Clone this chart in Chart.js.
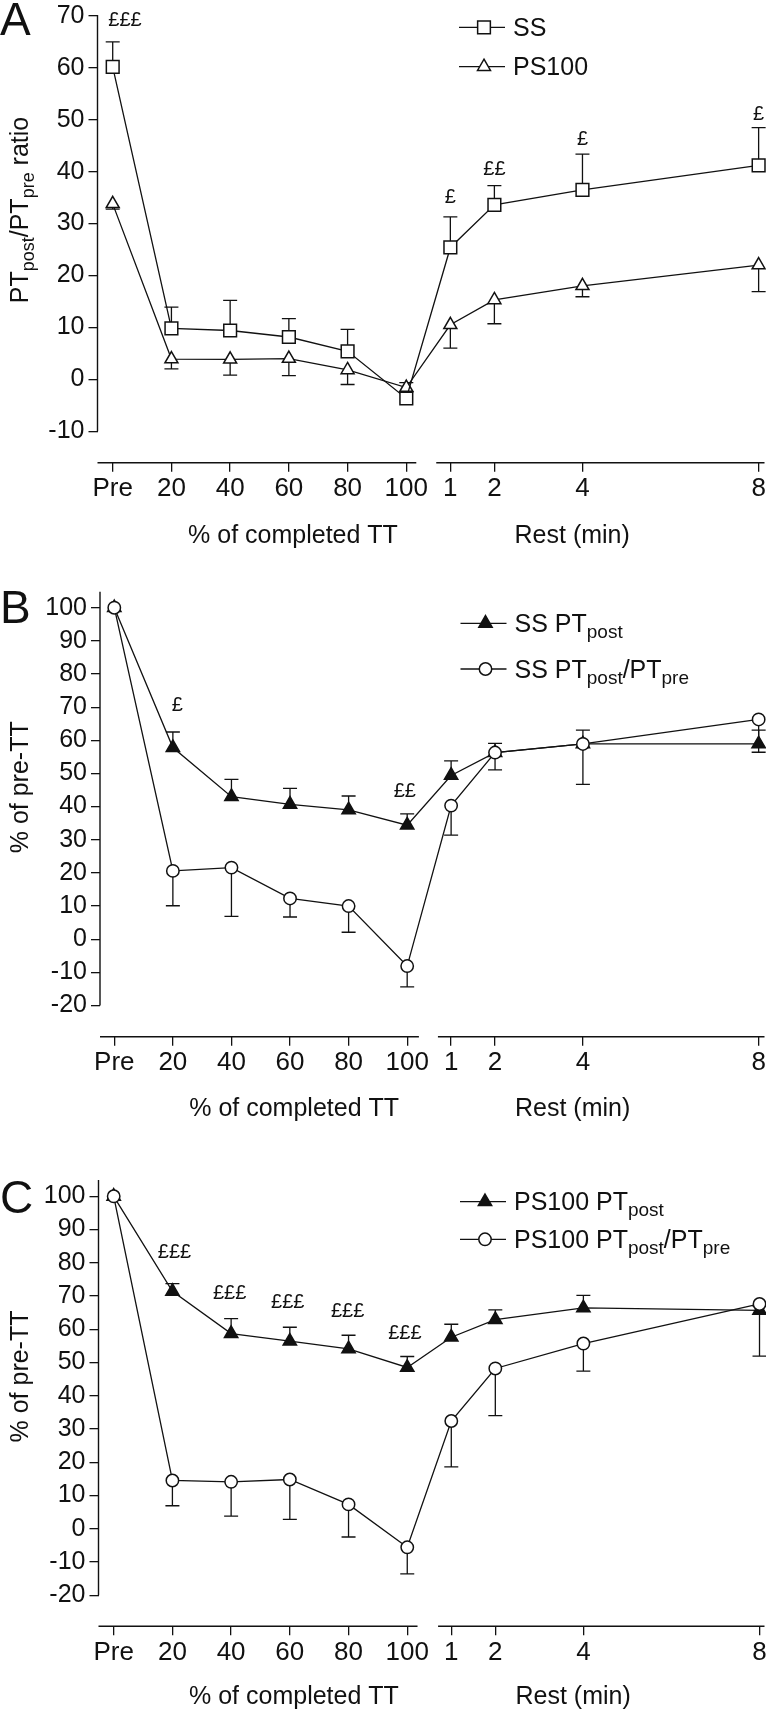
<!DOCTYPE html>
<html><head><meta charset="utf-8">
<script src="https://cdn.jsdelivr.net/npm/chart.js@4.4.1/dist/chart.umd.min.js"></script>
<style>
html,body{margin:0;padding:0;background:#fff;}
body{width:766px;height:1712px;position:relative;overflow:hidden;}
canvas{position:absolute;left:0;}
</style></head><body>
<canvas id="cA" width="766" height="565" style="top:0px;width:766px;height:565px"></canvas>
<canvas id="cB" width="766" height="570" style="top:565px;width:766px;height:570px"></canvas>
<canvas id="cC" width="766" height="577" style="top:1135px;width:766px;height:577px"></canvas>
<script>
// ---------- categories / ticks ----------
const pctPoints = [0, 20, 40, 60, 80, 100];      // "Pre" sits at 0
const pctLabels = ['Pre', '20', '40', '60', '80', '100'];
const restMinutes = [1, 2, 4, 8];
const restLabels = ['1', '2', '4', '8'];
const REST_ORIGIN = 100, REST_UNITS_PER_MIN = 15;  // broken-axis transform for rest minutes
const xPositions = pctPoints.concat(restMinutes.map(m => REST_ORIGIN + REST_UNITS_PER_MIN * m));
const xTickLabels = pctLabels.concat(restLabels);
const yTicksA = [-10, 0, 10, 20, 30, 40, 50, 60, 70];
const yTicksBC = [-20, -10, 0, 10, 20, 30, 40, 50, 60, 70, 80, 90, 100];

// ---------- Panel A : PTpost/PTpre ratio ----------
const ssRatio      = [60.2, 9.8, 9.4, 8.15, 5.4, -3.7, 25.4, 33.6, 36.5, 41.2];
const ssRatioErr   = [65.0, 13.9, 15.2, 11.7, 9.6, -0.65, 31.3, 37.3, 43.4, 48.5];
const ps100Ratio   = [33.8, 3.9, 3.85, 4.0, 1.8, -1.6, 10.5, 15.3, 18.0, 22.0];
const ps100RatioErr= [32.8, 2.0, 0.8, 0.7, -1.0, -2.5, 6.0, 10.7, 15.9, 16.9];

// ---------- Panel B : SS, % of pre-TT ----------
const ssPost        = [100, 57.8, 43.0, 40.7, 39.0, 34.4, 49.4, 56.3, 58.9, 58.9];
const ssPostErr     = [null, 62.5, 48.2, 45.5, 43.2, 37.8, 53.8, 59.1, 63.1, 63.1];
const ssPostPre     = [100, 20.6, 21.6, 12.3, 10.0, -8.1, 40.3, 56.3, 58.9, 66.3];
const ssPostPreErr  = [null, 10.1, 6.9, 6.7, 2.1, -14.4, 31.4, 51.1, 46.7, 56.4];

// ---------- Panel C : PS100, % of pre-TT ----------
const psPost        = [100, 71.4, 58.7, 56.4, 54.1, 48.5, 57.6, 62.9, 66.4, 65.7];
const psPostErr     = [null, 73.7, 63.2, 60.6, 58.2, 51.8, 61.5, 65.8, 70.2, 67.0];
const psPostPre     = [100, 14.5, 14.1, 14.8, 7.3, -5.6, 32.4, 48.2, 55.7, 67.6];
const psPostPreErr  = [null, 6.9, 3.8, 2.8, -2.5, -13.6, 18.6, 34.0, 47.4, 51.9];

// ---------- significance marks ----------
const sigTextA = ['£££', '£', '££', '£', '£'];
const sigXA    = [4.2, 115, 130, 160, 220];
const sigYA    = [69.2, 35.1, 40.5, 46.3, 51.1];
const sigTextB = ['£', '££'];
const sigXB    = [21.5, 99.2];
const sigYB    = [70.4, 44.5];
const sigTextC = ['£££', '£££', '£££', '£££', '£££'];
const sigXC    = [20.7, 39.5, 59.3, 79.7, 99.2];
const sigYC    = [83.0, 70.9, 67.9, 65.4, 58.6];

// ---------- styling helpers ----------
const INK = '#111';
const FONT = "'Liberation Sans', Arial, Helvetica, sans-serif";

function pts(vals) { return xPositions.map((x, i) => ({ x: x, y: vals[i] })); }
function labelFor(v) {
  const i = xPositions.indexOf(v);
  return i >= 0 ? xTickLabels[i] : '';
}
function series(label, vals, errs, style, filled, radius, order) {
  return {
    label: label, data: pts(vals), errEnd: errs,
    borderColor: INK, borderWidth: 1.3, tension: 0, fill: false,
    pointStyle: style, pointRadius: radius, pointHoverRadius: radius,
    pointBackgroundColor: filled ? INK : '#fff', pointBorderColor: INK, pointBorderWidth: 1.5,
    order: order, clip: false
  };
}
function drawRich(ctx, segs, x, y, size, subSize, subShift, align) {
  let w = 0;
  segs.forEach(s => { ctx.font = (s.sub ? subSize : size) + 'px ' + FONT; w += ctx.measureText(s.t).width; });
  let cx = align === 'center' ? x - w / 2 : x;
  ctx.textAlign = 'left'; ctx.textBaseline = 'alphabetic';
  segs.forEach(s => {
    ctx.font = (s.sub ? subSize : size) + 'px ' + FONT;
    ctx.fillText(s.t, cx, y + (s.sub ? subShift : 0));
    cx += ctx.measureText(s.t).width;
  });
}

function makeDeco(cfg) {
  return {
    id: 'deco' + cfg.id,
    beforeDatasetsDraw(chart) {
      const ctx = chart.ctx, xs = chart.scales.x, ys = chart.scales.y, ca = chart.chartArea;
      ctx.save();
      ctx.strokeStyle = INK; ctx.lineWidth = 1.3;
      // error bars (one-sided, ending at errEnd)
      chart.data.datasets.forEach(ds => {
        if (!ds.errEnd) return;
        ds.data.forEach((p, i) => {
          const e = ds.errEnd[i];
          if (e === null || e === undefined) return;
          const px = xs.getPixelForValue(p.x), py = ys.getPixelForValue(p.y), pe = ys.getPixelForValue(e);
          ctx.beginPath();
          ctx.moveTo(px, py); ctx.lineTo(px, pe);
          ctx.moveTo(px - 7, pe); ctx.lineTo(px + 7, pe);
          ctx.stroke();
        });
      });
      // axes (offset y axis, broken x axis)
      ctx.lineWidth = 1.4;
      ctx.beginPath();
      ctx.moveTo(ca.left, ca.top); ctx.lineTo(ca.left, ys.getPixelForValue(cfg.yLow));
      ctx.moveTo(xs.getPixelForValue(xs.min), ca.bottom); ctx.lineTo(xs.getPixelForValue(cfg.breakA), ca.bottom);
      ctx.moveTo(xs.getPixelForValue(cfg.breakB), ca.bottom); ctx.lineTo(xs.getPixelForValue(xs.max), ca.bottom);
      ctx.stroke();
      ctx.restore();
    },
    afterDraw(chart) {
      const ctx = chart.ctx, xs = chart.scales.x, ys = chart.scales.y, ca = chart.chartArea;
      ctx.save();
      ctx.fillStyle = INK; ctx.strokeStyle = INK;
      // panel letter
      ctx.font = '46px ' + FONT; ctx.textAlign = 'left'; ctx.textBaseline = 'alphabetic';
      ctx.fillText(cfg.letter, cfg.letterX, cfg.letterY);
      // significance marks
      ctx.font = '20px ' + FONT; ctx.textAlign = 'center'; ctx.textBaseline = 'middle';
      cfg.sigT.forEach((t, i) => ctx.fillText(t, xs.getPixelForValue(cfg.sigX[i]), ys.getPixelForValue(cfg.sigY[i])));
      // x titles
      ctx.font = '25px ' + FONT; ctx.textBaseline = 'alphabetic'; ctx.textAlign = 'center';
      ctx.fillText('% of completed TT', xs.getPixelForValue(61.4), ca.bottom + cfg.xTitleDy);
      ctx.fillText('Rest (min)', xs.getPixelForValue(156.5), ca.bottom + cfg.xTitleDy);
      // y title
      ctx.save();
      ctx.translate(cfg.yTitleX, cfg.yTitleY);
      ctx.rotate(-Math.PI / 2);
      drawRich(ctx, cfg.yTitle, 0, 0, 25, 18, 6, 'center');
      ctx.restore();
      // legend
      cfg.legend.forEach((row, r) => {
        const y = cfg.legendY[r];
        ctx.lineWidth = 1.3; ctx.strokeStyle = INK;
        ctx.beginPath(); ctx.moveTo(cfg.legendX0, y); ctx.lineTo(cfg.legendX0 + 46, y); ctx.stroke();
        const ds = chart.data.datasets[row.ds];
        ctx.fillStyle = ds.pointBackgroundColor; ctx.strokeStyle = INK; ctx.lineWidth = 1.5;
        Chart.helpers.drawPoint(ctx, { pointStyle: ds.pointStyle, rotation: 0, radius: ds.pointRadius, borderWidth: 1.5 }, cfg.legendX0 + 25, y);
        ctx.fillStyle = INK;
        drawRich(ctx, row.segs, cfg.legendX0 + 54, y + 8.5, 25, 19, 6, 'left');
      });
      ctx.restore();
    }
  };
}

function makeChart(cfg) {
  return new Chart(document.getElementById(cfg.id), {
    type: 'line',
    data: { datasets: cfg.datasets },
    plugins: [makeDeco(cfg)],
    options: {
      responsive: false, animation: false, devicePixelRatio: 1,
      layout: { autoPadding: false, padding: { top: cfg.top, right: 1.5, left: 0, bottom: 0 } },
      plugins: { legend: { display: false }, tooltip: { enabled: false } },
      scales: {
        x: {
          type: 'linear', min: cfg.xMin, max: cfg.xMax,
          border: { display: false },
          grid: { drawOnChartArea: false, drawTicks: true, tickLength: 9, color: INK, lineWidth: 1.3 },
          ticks: { autoSkip: false, maxRotation: 0, minRotation: 0, padding: 2, color: INK,
                   font: { family: FONT, size: 26 }, callback: v => labelFor(v) },
          afterBuildTicks: s => { s.ticks = xPositions.map(v => ({ value: v })); },
          afterFit: s => { s.height = cfg.xAxisH; s.paddingLeft = 0; s.paddingRight = 0; }
        },
        y: {
          type: 'linear', min: cfg.yMin, max: cfg.yMax,
          border: { display: false },
          grid: { drawOnChartArea: false, drawTicks: true, tickLength: 9, color: INK, lineWidth: 1.3 },
          ticks: { padding: 4, color: INK, font: { family: FONT, size: 25 } },
          afterBuildTicks: s => { s.ticks = cfg.yTicks.map(v => ({ value: v })); },
          afterFit: s => { s.width = cfg.left; s.paddingTop = 0; s.paddingBottom = 0; }
        }
      }
    }
  });
}

const sub = t => ({ t: t, sub: true });
const txt = t => ({ t: t });

makeChart({
  id: 'cA', letter: 'A', letterX: 0, letterY: 35,
  top: 15, left: 97.5, xAxisH: 565 - 462.7,
  xMin: -5.18, xMax: 222.0, yMin: -16.07, yMax: 70.19, yLow: -10, yTicks: yTicksA,
  breakA: 103.4, breakB: 110.2, xTitleDy: 80.3,
  yTitle: [txt('PT'), sub('post'), txt('/PT'), sub('pre'), txt(' ratio')], yTitleX: 28, yTitleY: 210,
  sigT: sigTextA, sigX: sigXA, sigY: sigYA,
  legendX0: 459, legendY: [27.3, 66.7],
  legend: [{ ds: 0, segs: [txt('SS')] }, { ds: 1, segs: [txt('PS100')] }],
  datasets: [
    series('SS', ssRatio, ssRatioErr, 'rect', false, 9, 0),
    series('PS100', ps100Ratio, ps100RatioErr, 'triangle', false, 7.5, 1)
  ]
});

makeChart({
  id: 'cB', letter: 'B', letterX: 0, letterY: 58,
  top: 26.7, left: 100, xAxisH: 570 - 471.7,
  xMin: -4.88, xMax: 222.0, yMin: -29.41, yMax: 104.83, yLow: -20, yTicks: yTicksBC,
  breakA: 104.0, breakB: 110.5, xTitleDy: 79.3,
  yTitle: [txt('% of pre-TT')], yTitleX: 28, yTitleY: 222.3,
  sigT: sigTextB, sigX: sigXB, sigY: sigYB,
  legendX0: 460.5, legendY: [58.3, 104],
  legend: [{ ds: 0, segs: [txt('SS PT'), sub('post')] },
           { ds: 1, segs: [txt('SS PT'), sub('post'), txt('/PT'), sub('pre')] }],
  datasets: [
    series('SS PTpost', ssPost, ssPostErr, 'triangle', true, 7.7, 1),
    series('SS PTpost/PTpre', ssPostPre, ssPostPreErr, 'circle', false, 6.2, 0)
  ]
});

makeChart({
  id: 'cC', letter: 'C', letterX: 0, letterY: 78,
  top: 45, left: 98.5, xAxisH: 577 - 491.3,
  xMin: -5.18, xMax: 221.7, yMin: -29.37, yMax: 104.9, yLow: -20, yTicks: yTicksBC,
  breakA: 103.5, breakB: 110.5, xTitleDy: 77.5,
  yTitle: [txt('% of pre-TT')], yTitleX: 28, yTitleY: 241.5,
  sigT: sigTextC, sigX: sigXC, sigY: sigYC,
  legendX0: 460, legendY: [66.7, 104.3],
  legend: [{ ds: 0, segs: [txt('PS100 PT'), sub('post')] },
           { ds: 1, segs: [txt('PS100 PT'), sub('post'), txt('/PT'), sub('pre')] }],
  datasets: [
    series('PS100 PTpost', psPost, psPostErr, 'triangle', true, 7.7, 1),
    series('PS100 PTpost/PTpre', psPostPre, psPostPreErr, 'circle', false, 6.2, 0)
  ]
});
</script>
</body></html>
